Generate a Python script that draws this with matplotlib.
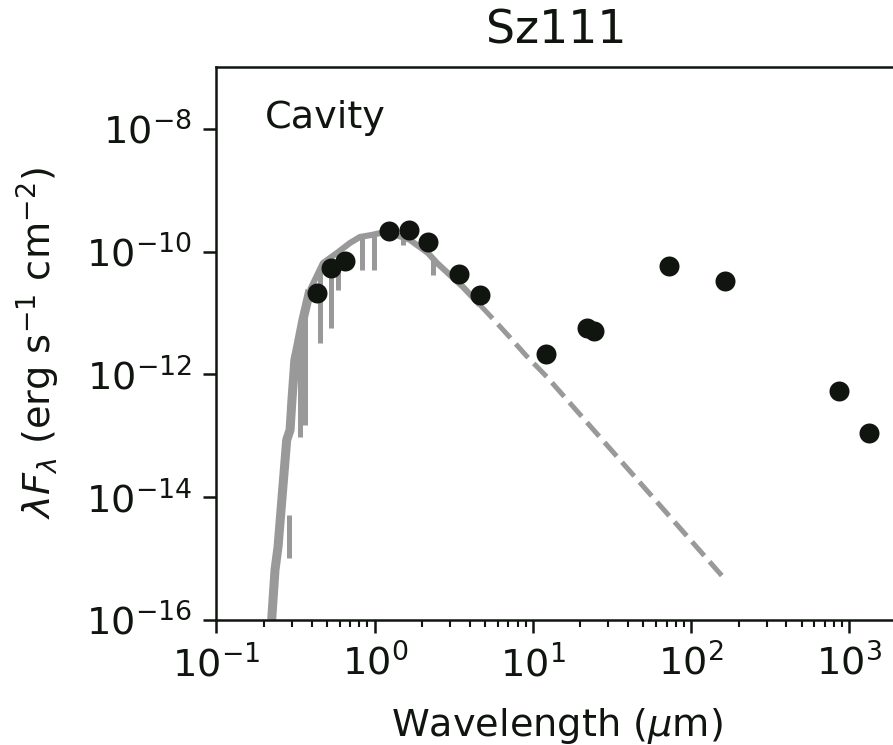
import matplotlib
matplotlib.use('Agg')
import matplotlib.pyplot as plt
from matplotlib.ticker import NullLocator

# photometry of Sz111 (wavelength in micron, lambda*F_lambda in erg/s/cm2)
phot_wl = [0.43, 0.53, 0.648, 1.237, 1.655, 2.163, 3.43, 4.63, 12.16,
           22.1, 24.3, 72.2, 163.7, 865, 1327]
phot_flux = [2.09e-11, 5.47e-11, 7.03e-11, 2.19e-10, 2.25e-10, 1.42e-10,
             4.32e-11, 1.98e-11, 2.12e-12, 5.75e-12, 5.08e-12, 5.82e-11,
             3.36e-11, 5.28e-13, 1.12e-13]

# stellar photosphere model (upper envelope)
model_wl = [0.2234, 0.2345, 0.245, 0.263, 0.278, 0.292, 0.300, 0.313, 0.323,
            0.352, 0.390, 0.471, 0.578, 0.698, 0.807, 0.962, 1.16, 1.29,
            1.67, 2.17, 2.48, 2.99, 3.62, 4.63, 5.6, 7.16, 9.18, 12.3, 166]
model_flux = [9.9e-17, 6.5e-16, 1.53e-15, 1.46e-14, 8.5e-14, 1.24e-13,
              3.8e-13, 1.71e-12, 2.5e-12, 7.7e-12, 2.37e-11, 6.5e-11,
              9.5e-11, 1.38e-10, 1.73e-10, 1.87e-10, 2.08e-10, 1.96e-10,
              1.55e-10, 9.5e-11, 6.5e-11, 4.16e-11, 2.65e-11, 1.35e-11,
              8.0e-12, 4.0e-12, 1.95e-12, 9.0e-13, 4.4e-16]

# absorption spikes in the model: wavelength, bottom, top
dip_wl = [0.287, 0.337, 0.362, 0.451, 0.530, 0.586, 0.832, 0.990, 1.51, 2.34]
dip_lo = [1.0e-15, 9.5e-14, 1.5e-13, 3.2e-12, 5.7e-12, 2.4e-11, 5.0e-11,
          5.0e-11, 1.28e-10, 4.2e-11]
dip_hi = [5.0e-15, 4.0e-12, 1.0e-11, 5.0e-11, 8.0e-11, 1.0e-10, 1.7e-10,
          1.9e-10, 1.8e-10, 8.0e-11]

ink = '#101510'
grey = '#999999'
plt.rcParams['font.family'] = ['DejaVu Sans']
plt.rcParams['mathtext.fontset'] = 'dejavusans'

fig = plt.figure(figsize=(8.93, 7.45), dpi=100)
# axes run past the right edge of the figure, like the cropped original
ax = fig.add_axes([0.2424, 0.1682, 0.7619, 0.7412])

# noisy blue side drawn as a wide band, the red side thinner,
# and the long-wavelength tail dashed
blue = model_wl.index(0.390)
cut = model_wl.index(4.63)
ax.plot(model_wl[:blue + 1], model_flux[:blue + 1], '-', color=grey, lw=6.5,
        zorder=2, solid_capstyle='butt')
ax.plot(model_wl[blue:cut + 1], model_flux[blue:cut + 1], '-', color=grey,
        lw=4.4, zorder=2, solid_capstyle='butt')
ax.vlines(dip_wl, dip_lo, dip_hi, color=grey, lw=3.6, zorder=2)
ax.plot(model_wl[cut:], model_flux[cut:], '--', color=grey, lw=3.6, zorder=2)
ax.plot(phot_wl, phot_flux, 'o', color=ink, ms=14.4, mew=0, zorder=3)

ax.set_xscale('log')
ax.set_yscale('log')
ax.set_xlim(0.1, 2000)
ax.set_ylim(1e-16, 1e-7)
ax.set_yticks([1e-16, 1e-14, 1e-12, 1e-10, 1e-8])
ax.yaxis.set_minor_locator(NullLocator())

for s in ax.spines.values():
    s.set_linewidth(1.8)
    s.set_color(ink)
ax.tick_params(which='major', direction='out', length=9.6, width=1.8,
               labelsize=27.5, colors=ink, pad=8)
ax.tick_params(which='minor', direction='out', length=5, width=1.5, colors=ink)

ax.set_xlabel(r'Wavelength ($\mu$m)', fontsize=27.5, color=ink, labelpad=16)
ax.set_ylabel(r'$\lambda F_\lambda$ (erg s$^{-1}$ cm$^{-2}$)', fontsize=27.5,
              color=ink, labelpad=17)
ax.set_title('Sz111', fontsize=33, color=ink, pad=17)
ax.text(0.0705, 0.891, 'Cavity', transform=ax.transAxes, fontsize=27.5,
        color=ink, va='baseline', ha='left')

fig.savefig('out.png', dpi=100)
